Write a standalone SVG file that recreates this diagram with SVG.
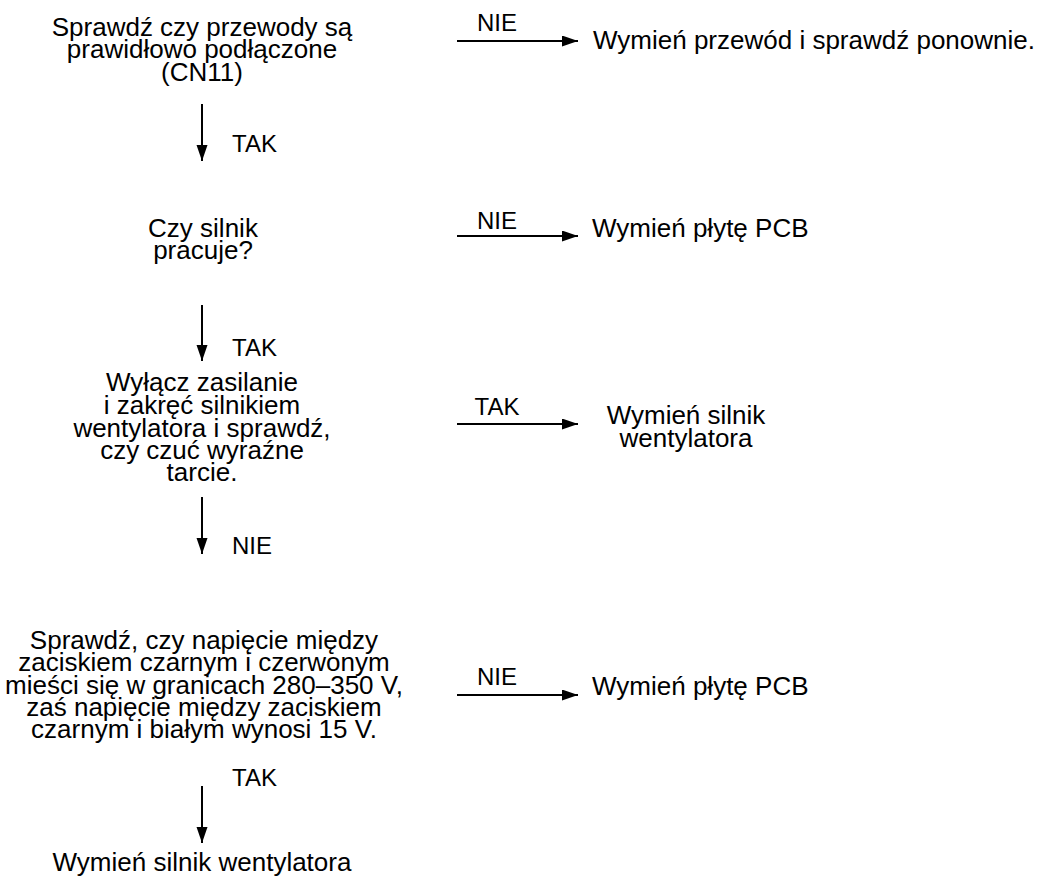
<svg xmlns="http://www.w3.org/2000/svg" width="1046" height="890" viewBox="0 0 1046 890">
  <style>
    text { font-family: "Liberation Sans", Arial, sans-serif; fill: #000; }
    .t { font-size: 26px; }
    .c { text-anchor: middle; }
    .lbl { font-size: 24px; }
    .edge { stroke: #000; stroke-width: 2; fill: none; marker-end: url(#arrow); }
  </style>
  <defs>
    <marker id="arrow" markerUnits="userSpaceOnUse" markerWidth="18" markerHeight="14" refX="16" refY="5.5" orient="auto">
      <path d="M0,0 L16,5.5 L0,11 Z" fill="#000"/>
    </marker>
  </defs>
  <rect width="1046" height="890" fill="#fff"/>

  <!-- connectors with their branch labels -->
  <g id="connectors">
    <line class="edge" x1="202" y1="104" x2="202" y2="161"/>
    <line class="edge" x1="457" y1="41" x2="578" y2="41"/>
    <line class="edge" x1="202" y1="305" x2="202" y2="361"/>
    <line class="edge" x1="457" y1="236" x2="578" y2="236"/>
    <line class="edge" x1="202" y1="497" x2="202" y2="554"/>
    <line class="edge" x1="457" y1="424" x2="578" y2="424"/>
    <line class="edge" x1="202" y1="786" x2="202" y2="843"/>
    <line class="edge" x1="457" y1="695" x2="578" y2="695"/>
    <text class="lbl" x="232" y="152">TAK</text>
    <text class="lbl c" x="497" y="31">NIE</text>
    <text class="lbl" x="232" y="356">TAK</text>
    <text class="lbl c" x="497" y="229">NIE</text>
    <text class="lbl" x="232" y="554">NIE</text>
    <text class="lbl c" x="497" y="415">TAK</text>
    <text class="lbl" x="232" y="786">TAK</text>
    <text class="lbl c" x="497" y="685">NIE</text>
  </g>

  <g id="check-wires">
    <text class="t c" x="202" y="36">Sprawdź czy przewody są</text>
    <text class="t c" x="202" y="58">prawidłowo podłączone</text>
    <text class="t c" x="202" y="81">(CN11)</text>
  </g>
  <g id="replace-wire">
    <text class="t" x="593" y="49">Wymień przewód i sprawdź ponownie.</text>
  </g>
  <g id="motor-running">
    <text class="t c" x="203" y="237">Czy silnik</text>
    <text class="t c" x="203" y="259">pracuje?</text>
  </g>
  <g id="replace-pcb-1">
    <text class="t" x="592" y="237">Wymień płytę PCB</text>
  </g>
  <g id="friction-check">
    <text class="t c" x="202" y="391">Wyłącz zasilanie</text>
    <text class="t c" x="202" y="414">i zakręć silnikiem</text>
    <text class="t c" x="202" y="437">wentylatora i sprawdź,</text>
    <text class="t c" x="202" y="459">czy czuć wyraźne</text>
    <text class="t c" x="202" y="481">tarcie.</text>
  </g>
  <g id="replace-motor-1">
    <text class="t c" x="686" y="424">Wymień silnik</text>
    <text class="t c" x="686" y="447">wentylatora</text>
  </g>
  <g id="voltage-check">
    <text class="t c" x="204" y="649">Sprawdź, czy napięcie między</text>
    <text class="t c" x="204" y="671">zaciskiem czarnym i czerwonym</text>
    <text class="t c" x="204" y="694">mieści się w granicach 280–350 V,</text>
    <text class="t c" x="204" y="716">zaś napięcie między zaciskiem</text>
    <text class="t c" x="204" y="738">czarnym i białym wynosi 15 V.</text>
  </g>
  <g id="replace-pcb-2">
    <text class="t" x="592" y="695">Wymień płytę PCB</text>
  </g>
  <g id="replace-motor-2">
    <text class="t c" x="202" y="871">Wymień silnik wentylatora</text>
  </g>
</svg>
